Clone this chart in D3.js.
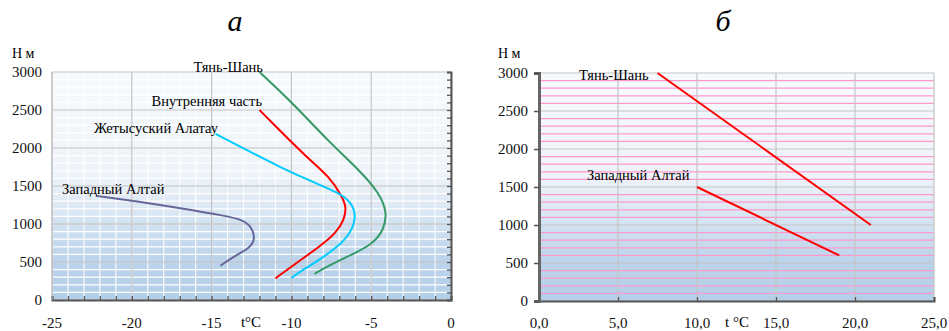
<!DOCTYPE html>
<html lang="ru">
<head>
<meta charset="utf-8">
<script src="https://cdn.jsdelivr.net/npm/d3@7"></script>
<style>
  body { margin: 0; background: #fff; }
</style>
</head>
<body>
<div id="my_dataviz"></div>
<script>

// ---- panel а : temperature vs height (curves)
const tianShanA = [[-12.0,3000],[-10.1,2630],[-7.6,2070],[-5.75,1710],[-4.5,1410],[-4.0,1160],[-4.2,920],[-4.95,725],[-6.55,565],[-7.8,435],[-8.55,345]];
const innerA    = [[-12.0,2500],[-10.75,2235],[-9.05,1880],[-7.6,1620],[-6.8,1355],[-6.55,1215],[-6.7,1055],[-7.2,880],[-8.25,700],[-9.7,485],[-11.0,285]];
const zhetysuA  = [[-14.75,2185],[-12.8,1975],[-10.75,1750],[-8.7,1555],[-7.0,1410],[-6.2,1275],[-5.95,1105],[-6.2,920],[-6.8,750],[-8.25,525],[-9.3,395],[-10.0,290]];
const altaiA    = [[-22.2,1370],[-19.9,1305],[-16.8,1205],[-14.1,1105],[-13.05,1055],[-12.5,965],[-12.25,810],[-12.6,680],[-13.65,570],[-14.45,450]];
const xTicksA = [-25, -20, -15, -10, -5, 0];

// ---- panel б : straight lines
const tianShanB = [[7.5,3000],[21,1000]];
const altaiB    = [[10,1500],[19,600]];
const xTicksB = [0, 5, 10, 15, 20, 25];

const yTicks = [0, 500, 1000, 1500, 2000, 2500, 3000];

const W = 949, H = 331;
const svg = d3.select("#my_dataviz").append("svg")
    .attr("width", W).attr("height", H)
    .attr("font-family", "'Liberation Serif', 'Times New Roman', serif");

// background gradient
const defs = svg.append("defs");
const grad = defs.append("linearGradient").attr("id", "bg")
    .attr("x1", 0).attr("y1", 0).attr("x2", 0).attr("y2", 1);
[[0, "#f7fafd"], [0.45, "#eef3f9"], [0.62, "#d9e6f3"], [0.82, "#bcd4eb"], [1, "#b3cfe8"]]
    .forEach(s => grad.append("stop").attr("offset", s[0]).attr("stop-color", s[1]));

function panel(opt) {
    const x = d3.scaleLinear().domain(opt.xDomain).range([opt.left, opt.right]);
    const y = d3.scaleLinear().domain([0, 3000]).range([opt.bottom, opt.top]);
    const g = svg.append("g");

    g.append("rect")
        .attr("x", opt.left).attr("y", opt.top)
        .attr("width", opt.right - opt.left).attr("height", opt.bottom - opt.top)
        .attr("fill", "url(#bg)");

    // minor vertical grid
    if (opt.minorX) {
        g.selectAll(".mx").data(d3.range(opt.xDomain[0], opt.xDomain[1] + 0.001, 1))
            .enter().append("line")
            .attr("x1", d => x(d)).attr("x2", d => x(d))
            .attr("y1", opt.top).attr("y2", opt.bottom)
            .attr("stroke", "#fff").attr("stroke-width", 1.2).attr("opacity", 0.9);
    }
    // minor horizontal grid
    g.selectAll(".my").data(d3.range(100, 3000, 100).filter(d => d % 500 !== 0))
        .enter().append("line")
        .attr("x1", opt.left).attr("x2", opt.right)
        .attr("y1", d => y(d)).attr("y2", d => y(d))
        .attr("stroke", opt.minorColor).attr("stroke-width", opt.minorWidth);
    // major grid
    g.selectAll(".gx").data(opt.xTicks)
        .enter().append("line")
        .attr("x1", d => x(d)).attr("x2", d => x(d))
        .attr("y1", opt.top).attr("y2", opt.bottom)
        .attr("stroke", "#c4c4c4").attr("stroke-width", 1.2);
    g.selectAll(".gy").data(yTicks)
        .enter().append("line")
        .attr("x1", opt.left).attr("x2", opt.right)
        .attr("y1", d => y(d)).attr("y2", d => y(d))
        .attr("stroke", "#c4c4c4").attr("stroke-width", 1.2);

    // axes
    const xAxis = d3.axisBottom(x).tickValues(opt.minorX ? d3.range(opt.xDomain[0], opt.xDomain[1] + 0.001, 1) : opt.xTicks)
        .tickSize(-4).tickFormat("");
    g.append("g").attr("transform", `translate(0,${opt.bottom})`).call(xAxis)
        .call(a => a.selectAll("line").attr("stroke", "#555").attr("stroke-width", 1.3))
        .call(a => a.select(".domain").attr("stroke", "#555").attr("stroke-width", 2));

    if (opt.rightAxis) {
        const yR = d3.axisRight(y).tickValues(d3.range(0, 3001, 100)).tickSize(-4).tickFormat("");
        g.append("g").attr("transform", `translate(${opt.right},0)`).call(yR)
            .call(a => a.selectAll("line").attr("stroke", "#555").attr("stroke-width", 1.3))
            .call(a => a.select(".domain").attr("stroke", "#555").attr("stroke-width", 2));
        g.append("line").attr("x1", opt.left).attr("x2", opt.left)
            .attr("y1", opt.top).attr("y2", opt.bottom).attr("stroke", "#bbb");
    } else {
        const yL = d3.axisLeft(y).tickValues(yTicks).tickSize(5).tickFormat("");
        g.append("g").attr("transform", `translate(${opt.left},0)`).call(yL)
            .call(a => a.selectAll("line").attr("stroke", "#555").attr("stroke-width", 1.5))
            .call(a => a.select(".domain").attr("stroke", "#666").attr("stroke-width", 3));
    }

    // tick labels
    g.selectAll(".yl").data(yTicks).enter().append("text")
        .attr("x", opt.yLabelX).attr("y", d => y(d) + 5)
        .attr("text-anchor", "end").attr("font-size", 15).attr("fill", "#111")
        .text(d => d);
    g.selectAll(".xl").data(opt.xTicks).enter().append("text")
        .attr("x", d => x(d)).attr("y", 328)
        .attr("text-anchor", "middle").attr("font-size", 15).attr("fill", "#111")
        .text(opt.xFormat);

    g.append("text").attr("x", opt.hmX).attr("y", 58).attr("font-size", 14).text("Н м");
    g.append("text").attr("x", opt.tX).attr("y", 327).attr("text-anchor", "middle")
        .attr("font-size", 15).text(opt.tLabel);
    g.append("text").attr("x", opt.titleX).attr("y", 31).attr("text-anchor", "middle")
        .attr("font-size", 30).attr("font-style", "italic").text(opt.title);

    // series
    const line = d3.line().x(d => x(d[0])).y(d => y(d[1])).curve(opt.curve);
    opt.series.forEach(s => {
        g.append("path").datum(s.data)
            .attr("fill", "none").attr("stroke", s.color).attr("stroke-width", 2)
            .attr("d", line);
        g.append("text").attr("x", s.lx).attr("y", s.ly)
            .attr("text-anchor", s.anchor).attr("font-size", 14.5).text(s.name);
    });
}

panel({
    left: 52, right: 451, top: 72, bottom: 300,
    xDomain: [-25, 0], xTicks: xTicksA, minorX: true, rightAxis: true,
    minorColor: "#ffffff", minorWidth: 1.2,
    yLabelX: 42, hmX: 12, tX: 251, tLabel: "t°C", titleX: 235, title: "а",
    xFormat: d => d,
    curve: d3.curveBasis,
    series: [
        { name: "Тянь-Шань", data: tianShanA, color: "#339966", lx: 263, ly: 72, anchor: "end" },
        { name: "Внутренняя часть", data: innerA, color: "#ff0000", lx: 262, ly: 106, anchor: "end" },
        { name: "Жетысуский Алатау", data: zhetysuA, color: "#00ccff", lx: 218, ly: 133, anchor: "end" },
        { name: "Западный Алтай", data: altaiA, color: "#666699", lx: 62, ly: 194, anchor: "start" }
    ]
});

panel({
    left: 539, right: 934, top: 73, bottom: 301,
    xDomain: [0, 25], xTicks: xTicksB, minorX: false, rightAxis: false,
    minorColor: "#ff99cc", minorWidth: 1.3,
    yLabelX: 528, hmX: 498, tX: 737, tLabel: "t °C", titleX: 723, title: "б",
    xFormat: d => d.toFixed(1).replace(".", ","),
    curve: d3.curveLinear,
    series: [
        { name: "Тянь-Шань", data: tianShanB, color: "#ff0000", lx: 579, ly: 80, anchor: "start" },
        { name: "Западный Алтай", data: altaiB, color: "#ff0000", lx: 587, ly: 180, anchor: "start" }
    ]
});
</script>
</body>
</html>
